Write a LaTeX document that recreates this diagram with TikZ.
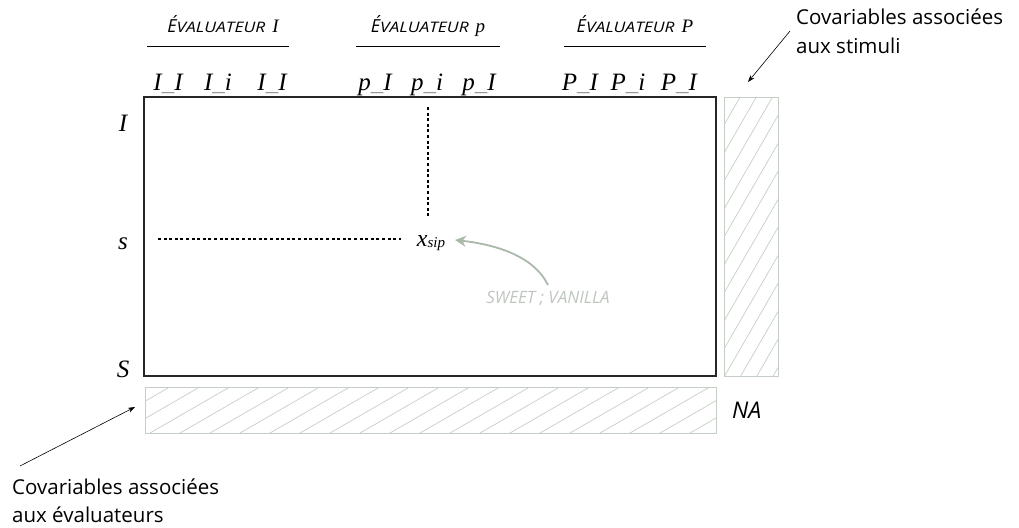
\documentclass[tikz,border=0pt]{standalone}
\usepackage{fontspec}
\setmainfont{Liberation Serif}
\newfontfamily\sansf{Open Sans}
\usetikzlibrary{arrows.meta}
\definecolor{hatchc}{HTML}{C5CEC5}
\definecolor{arrowg}{HTML}{ABB9AB}
\definecolor{lbl}{HTML}{BEC6BE}
\definecolor{uscore}{HTML}{9A9A9A}
\newcommand{\us}{\textcolor{uscore}{\_}}
\newcommand{\evalhead}[1]{{\sansf\itshape\fontsize{18}{20}\selectfont É\fontsize{14.5}{16}\selectfont \scalebox{1.2}[1]{VALUATEUR}}\hspace{7pt}{\itshape\fontsize{19}{20}\selectfont #1}}
\tikzset{
  collab/.style={font=\itshape\fontsize{25}{28}\selectfont, anchor=base, inner sep=0pt},
  rowlab/.style={font=\itshape\fontsize{25}{28}\selectfont, anchor=base, inner sep=0pt},
  headlab/.style={anchor=base, inner sep=0pt},
  covlab/.style={font=\sansf\fontsize{20.5}{23}\selectfont, anchor=base west, inner sep=0pt},
  hatchline/.style={draw=hatchc, line width=0.7pt},
  sidebox/.style={draw=hatchc, line width=1pt},
  pointer/.style={draw=black, line width=0.6pt, -{Stealth[length=7pt,width=5pt]}},
  guide/.style={draw=black, line width=1.2pt, dash pattern=on 3pt off 2.6pt},
}
\begin{document}
\begin{tikzpicture}[x=1pt,y=-1pt]
\useasboundingbox (0,0) rectangle (1019,527);

% headers
\node[headlab] (h1) at (223,33) {\evalhead{I}};
\node[headlab] (h2) at (428,33) {\evalhead{p}};
\node[headlab] (h3) at (635,33) {\evalhead{P}};
\draw[line width=0.8pt] (147,46) -- (289,46);
\draw[line width=0.8pt] (356,46) -- (500,46);
\draw[line width=0.8pt] (564,46) -- (706,46);

% column labels
\node[collab] (c11) at (168,90) {I\us I};
\node[collab] (c1i) at (218,90) {I\us i};
\node[collab] (c1I) at (272,90) {I\us I};
\node[collab] (cp1) at (375,90) {p\us I};
\node[collab] (cpi) at (427,90) {p\us i};
\node[collab] (cpI) at (479,90) {p\us I};
\node[collab] (cP1) at (580,90) {P\us I};
\node[collab] (cPi) at (628,90) {P\us i};
\node[collab] (cPI) at (679,90) {P\us I};

% row labels
\node[rowlab] (r1) at (123,131) {I};
\node[rowlab] (rs) at (123,249) {s};
\node[rowlab] (rS) at (123,377) {S};

% main frame
\draw[line width=1.2pt, draw=black!85] (144,97) rectangle (716,376);

% right hatched box
\begin{scope}
\clip (724,97) rectangle (778,376);
\foreach \k in {0,...,14} {
  \draw[hatchline] (724,{97+28*\k}) -- (778,{97+28*\k-93.5});
}
\end{scope}
\draw[sidebox] (724,97) rectangle (778,376);

% bottom hatched box
\begin{scope}
\clip (145,387) rectangle (716,433);
\foreach \k in {-3,...,20} {
  \draw[hatchline] ({150+30*\k},433) -- ({150+30*\k+79.7},387);
}
\end{scope}
\draw[sidebox] (145,387) rectangle (716,433);
\coordinate (botbox) at (135,407);
\coordinate (rightbox) at (748,82);

% cell
\node[anchor=base, inner sep=1pt] (xsip) at (431,246) {\itshape\fontsize{24}{26}\selectfont x\raisebox{-1.5pt}{\fontsize{15}{16}\selectfont sip}};
\coordinate (vtop) at (428,107);
\coordinate (hleft) at (158,239);
\draw[guide] (vtop) -- (428,216);
\draw[guide] (hleft) -- (401,239);

% sweet label and arrow
\node[anchor=base, inner sep=0pt, text=lbl, font=\sansf\itshape\fontsize{17}{19}\selectfont] (sweet) at (548,303) {SWEET ; VANILLA};
\draw[draw=arrowg, line width=1.8pt, -{Stealth[length=11pt,width=11pt]}] (548,285) .. controls (535,258) and (500,245) .. (455,240);

% NA
\node[anchor=base west, inner sep=0pt, font=\sansf\itshape\fontsize{23}{25}\selectfont] (na) at (732,418) {NA};

% covariables labels
\node[covlab] (covs1) at (796,25) {Covariables associées};
\node[covlab] (covs2) at (796,54) {aux stimuli};
\node[covlab] (cove1) at (12,494) {Covariables associées};
\node[covlab] (cove2) at (12,522) {aux évaluateurs};

\draw[pointer] (790,31) -- (rightbox);
\draw[pointer] (20,466) -- (botbox);
\end{tikzpicture}
\end{document}
